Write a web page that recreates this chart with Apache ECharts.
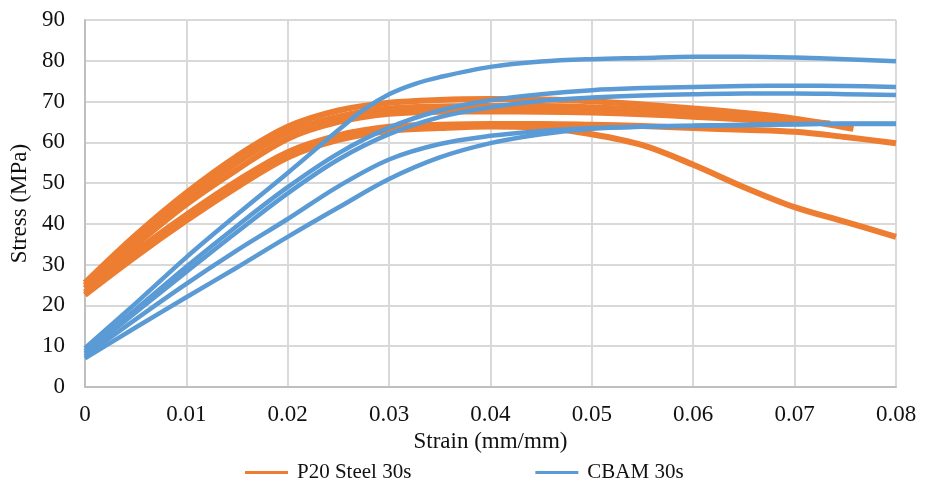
<!DOCTYPE html>
<html>
<head>
<meta charset="utf-8">
<script src="https://cdn.jsdelivr.net/npm/echarts@6/dist/echarts.min.js"></script>
<style>
  html, body { margin: 0; padding: 0; background: #fff; }
  #chart { width: 925px; height: 484px; }
</style>
</head>
<body>
<div id="chart"></div>
<script>
// strain points (mm/mm) and stress readings (MPa) for each specimen
const strainFull = [0, 0.005, 0.01, 0.015, 0.02, 0.025, 0.03, 0.035, 0.04, 0.045, 0.05, 0.055, 0.06, 0.065, 0.07, 0.075, 0.08];

// P20 Steel 30s
const p20Strain1 = [0, 0.005, 0.01, 0.015, 0.02, 0.025, 0.03, 0.035, 0.04, 0.045, 0.05, 0.055, 0.06, 0.065, 0.07, 0.0758];
const p20Stress1 = [25.5, 37.2, 47.6, 56.6, 63.8, 67.8, 69.7, 70.4, 70.6, 70.5, 70.1, 69.3, 68.3, 67.2, 65.8, 63.3];
const p20Strain2 = [0, 0.005, 0.01, 0.015, 0.02, 0.025, 0.03, 0.035, 0.04, 0.045, 0.05, 0.055, 0.06, 0.065, 0.07, 0.0735];
const p20Stress2 = [24.9, 36, 46.2, 55, 62.4, 66.3, 68.3, 68.8, 68.9, 68.9, 68.6, 68, 67.2, 66.3, 65.3, 64.6];
const p20Strain3 = [0, 0.005, 0.01, 0.015, 0.02, 0.025, 0.03, 0.035, 0.04, 0.045, 0.05, 0.055, 0.06, 0.065, 0.068];
const p20Stress3 = [24.2, 34.8, 44.8, 53.3, 60.9, 65, 67, 67.5, 67.6, 67.5, 67.3, 66.9, 66.3, 65.6, 65.2];
const p20Stress4 = [23.2, 33.2, 42.2, 50.5, 57.6, 61.7, 63.8, 64.3, 64.5, 64.5, 64.3, 64, 63.5, 63.1, 62.6, 61.3, 59.8];
const p20Stress5 = [22.6, 32, 40.8, 49, 56.3, 60.6, 62.8, 63.5, 63.9, 63.6, 62, 59.3, 54.5, 49, 44.1, 40.5, 36.8];

// CBAM 30s
const cbamStrain1 = [0, 0.005, 0.01, 0.015, 0.02, 0.025, 0.0275, 0.03, 0.0325, 0.035, 0.04, 0.045, 0.05, 0.055, 0.06, 0.065, 0.07, 0.075, 0.08];
const cbamStress1 = [9.5, 20.5, 31.8, 42.3, 52.5, 63, 68, 71.8, 74.3, 76, 78.5, 79.8, 80.4, 80.7, 81, 81, 80.8, 80.4, 79.9];
const cbamStress2 = [8.8, 19, 29.5, 39.5, 49, 57.3, 63.6, 67.8, 70.3, 71.8, 72.8, 73.3, 73.6, 73.8, 73.9, 73.8, 73.6];
const cbamStress3 = [8.2, 18.3, 28.2, 38, 47.5, 55.8, 62, 66.2, 68.6, 70.2, 71, 71.5, 71.8, 72, 72, 71.8, 71.6];
const cbamStress4 = [7.6, 16.6, 25.3, 33.5, 41.2, 49.2, 55.8, 59.6, 61.6, 62.8, 63.5, 63.9, 64.1, 64.3, 64.5, 64.6, 64.6];
const cbamStress5 = [7, 14.6, 22, 29.3, 36.8, 44, 51, 56.3, 59.8, 62, 63.3, 63.8, 64, 64.2, 64.4, 64.5, 64.5];

const xTicks = ['0', '0.01', '0.02', '0.03', '0.04', '0.05', '0.06', '0.07', '0.08'];

const ORANGE = '#ED7D31';
const BLUE = '#5B9BD5';
const FONT = 'Liberation Serif';
const TEXT = '#111';

function pairs(xs, ys) {
  return ys.map((y, i) => [xs[i], y]);
}

function curve(name, color, width, data) {
  return {
    name: name,
    type: 'line',
    data: data,
    symbol: 'none',
    smooth: 0.35,
    lineStyle: { color: color, width: width },
    itemStyle: { color: color },
  };
}

const chart = echarts.init(document.getElementById('chart'));

const option = {
  animation: false,
  backgroundColor: '#fff',
  grid: { left: 83, right: 29, top: 20, bottom: 97 },
  legend: {
    data: ['P20 Steel 30s', 'CBAM 30s'],
    left: 240,
    top: 457,
    icon: 'rect',
    itemWidth: 43,
    itemHeight: 3,
    itemGap: 124,
    textStyle: { fontFamily: FONT, fontSize: 21, color: TEXT, padding: [0, 0, 0, 4] },
  },
  xAxis: {
    type: 'value',
    min: 0,
    max: 0.08,
    interval: 0.01,
    name: 'Strain (mm/mm)',
    nameLocation: 'middle',
    nameGap: 42,
    nameTextStyle: { fontFamily: FONT, fontSize: 23, color: TEXT },
    axisLine: { show: true, lineStyle: { color: '#bfbfbf', width: 2 } },
    axisTick: { show: false },
    axisLabel: {
      margin: 16,
      fontFamily: FONT,
      fontSize: 23,
      color: TEXT,
      formatter: (v) => xTicks[Math.round(v * 100)],
    },
    splitLine: { show: true, lineStyle: { color: '#d9d9d9', width: 2 } },
  },
  yAxis: {
    type: 'value',
    min: 0,
    max: 90,
    interval: 10,
    name: 'Stress (MPa)',
    nameLocation: 'middle',
    nameGap: 51,
    nameTextStyle: { fontFamily: FONT, fontSize: 23, color: TEXT },
    axisLine: { show: true, lineStyle: { color: '#bfbfbf', width: 2 } },
    axisTick: { show: false },
    axisLabel: { margin: 20, fontFamily: FONT, fontSize: 23, color: TEXT },
    splitLine: { show: true, lineStyle: { color: '#d9d9d9', width: 2 } },
  },
  series: [
    curve('P20 Steel 30s', ORANGE, 6, pairs(p20Strain1, p20Stress1)),
    curve('P20 Steel 30s', ORANGE, 6, pairs(p20Strain2, p20Stress2)),
    curve('P20 Steel 30s', ORANGE, 6, pairs(p20Strain3, p20Stress3)),
    curve('P20 Steel 30s', ORANGE, 6, pairs(strainFull, p20Stress4)),
    curve('P20 Steel 30s', ORANGE, 6, pairs(strainFull, p20Stress5)),
    curve('CBAM 30s', BLUE, 4.5, pairs(cbamStrain1, cbamStress1)),
    curve('CBAM 30s', BLUE, 4.5, pairs(strainFull, cbamStress2)),
    curve('CBAM 30s', BLUE, 4.5, pairs(strainFull, cbamStress3)),
    curve('CBAM 30s', BLUE, 4.5, pairs(strainFull, cbamStress4)),
    curve('CBAM 30s', BLUE, 4.5, pairs(strainFull, cbamStress5)),
  ],
};

chart.setOption(option);
</script>
</body>
</html>
